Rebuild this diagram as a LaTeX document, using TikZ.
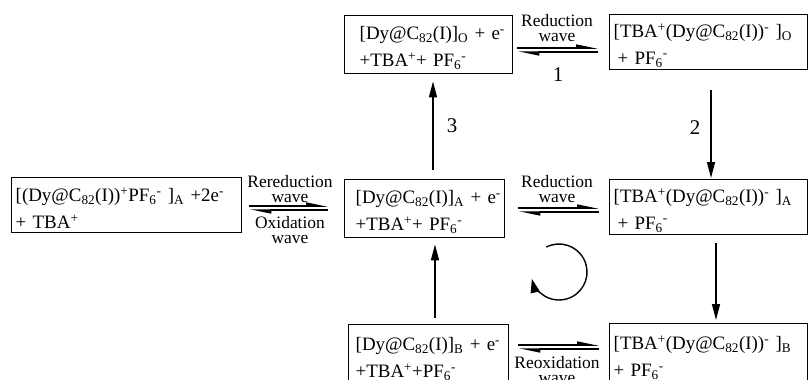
\documentclass[tikz,border=0pt]{standalone}
\usepackage{fontspec}
\setmainfont{Liberation Serif}
\usetikzlibrary{arrows.meta}

\newcommand{\dyc}{Dy@C\textsubscript{82}(I)}
\newcommand{\up}[1]{\textsuperscript{#1}}
\newcommand{\dn}[1]{\textsubscript{#1}}

\begin{document}
\begin{tikzpicture}[x=1bp,y=-1bp,
	species/.style={draw,line width=1.4bp,anchor=north west,align=left,font=\fontsize{19}{27}\selectfont,inner ysep=0pt,text height=20bp},
	react/.style={line width=1.5bp,-{Triangle[length=16bp,width=8bp]}},
	harp/.style={line width=1.5bp,-{Triangle[harpoon,length=18bp,width=7bp]}},
	cyc/.style={line width=1.4bp,-{Triangle[length=14bp,width=9bp]}},
	wave/.style={inner sep=0pt,align=center,font=\fontsize{17.5}{15}\selectfont},
	stepno/.style={inner sep=0pt,font=\fontsize{21}{21}\selectfont}]
\clip (0,0) rectangle (809,379);

% species boxes
\node[species,inner xsep=15bp,text width=138bp,minimum height=58bp] (boxO) at (344,15)
	{\mbox{[\dyc]\dn{O} + e\up{-}}\\\mbox{+TBA\up{+}+ PF\dn{6}\up{-}}};
\node[species,inner xsep=4bp,text width=190bp,minimum height=55bp] (tbaO) at (609,14)
	{\mbox{[TBA\up{+}(\dyc)\up{-} ]\dn{O}}\\\hspace*{4bp}+ PF\dn{6}\up{-}};
\node[species,inner xsep=4bp,text width=222bp,minimum height=55bp] (ionA) at (11,177)
	{\mbox{[(\dyc)\up{+}PF\dn{6}\up{-} ]\dn{A} +2e\up{-}}\\+ TBA\up{+}};
\node[species,inner xsep=11bp,text width=138bp,minimum height=58bp] (boxA) at (344,179)
	{\mbox{[\dyc]\dn{A} + e\up{-}}\\\mbox{+TBA\up{+}+ PF\dn{6}\up{-}}};
\node[species,inner xsep=4bp,text width=190bp,minimum height=55bp] (tbaA) at (609,179)
	{\mbox{[TBA\up{+}(\dyc)\up{-} ]\dn{A}}\\\hspace*{4bp}+ PF\dn{6}\up{-}};
\node[species,inner xsep=7bp,text width=146bp,minimum height=62bp] (boxB) at (348,324)
	{\mbox{[\dyc]\dn{B} + e\up{-}}\\\mbox{+TBA\up{+}+PF\dn{6}\up{-}}};
\node[species,inner xsep=4bp,text width=190bp,minimum height=62bp] (tbaB) at (609,323)
	{\mbox{[TBA\up{+}(\dyc)\up{-} ]\dn{B}}\\+ PF\dn{6}\up{-}};

% equilibria
\foreach \l/\r/\y/\a/\b in {boxO/tbaO/48/4/11,ionA/boxA/206/7/16,boxA/tbaA/208/13/10,boxB/tbaB/345/9/10}{
	\draw[harp,shorten <=\a bp,shorten >=\b bp](\l.east |- 0,\y)--(\r.west |- 0,\y);
	\draw[harp,shorten <=\b bp,shorten >=\a bp](\r.west |- 0,\y+4)--(\l.east |- 0,\y+4);
}
\node[wave,anchor=south] (redO) at (557,42) {Reduction\\wave};
\node[wave,anchor=south] (redA) at (557,203) {Reduction\\wave};
\node[wave,anchor=south] (rered) at (290,203) {Rereduction\\wave};
\node[wave,anchor=north] (oxid) at (290,216) {Oxidation\\wave};
\node[wave,anchor=north] (reox) at (557,356) {Reoxidation\\wave};

% steps
\draw[react,shorten <=20bp,shorten >=1bp](tbaO.south -| 711,0)--(tbaA.north -| 711,0);
\draw[react,shorten <=9bp,shorten >=7bp](boxA.north -| 433,0)--(boxO.south -| 433,0);
\draw[react,shorten <=8bp,shorten >=3bp](tbaA.south -| 716,0)--(tbaB.north -| 716,0);
\draw[react,shorten <=6bp,shorten >=6bp](boxB.north -| 435,0)--(boxA.south -| 435,0);
\node[stepno] (s1) at (558,75) {1};
\node[stepno] (s2) at (695,128) {2};
\node[stepno] (s3) at (452,126) {3};

\draw[cyc](559,272) ++(-117:28) arc[start angle=-117,end angle=166,radius=28];

\end{tikzpicture}
\end{document}
